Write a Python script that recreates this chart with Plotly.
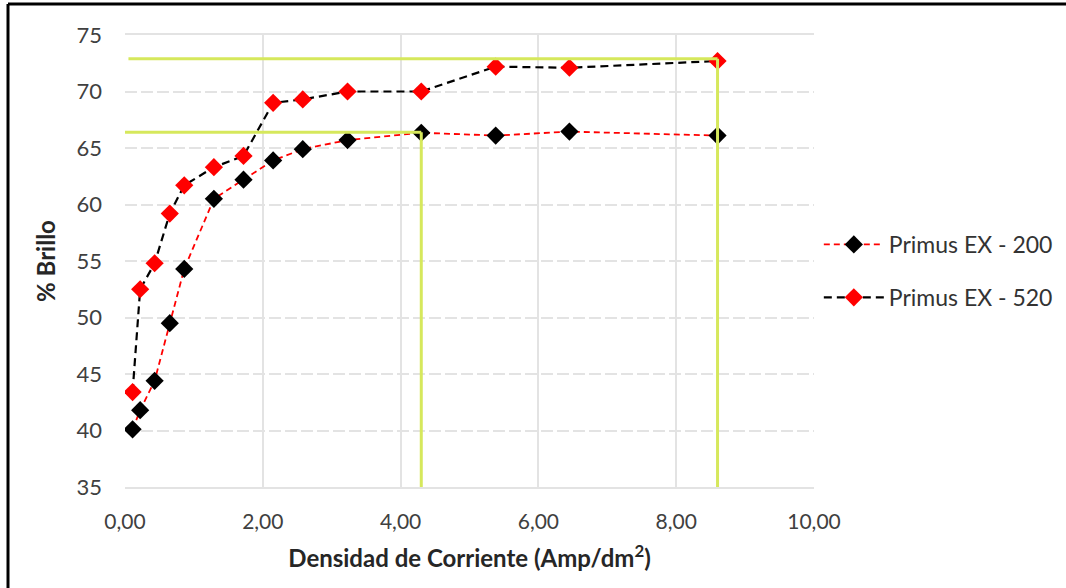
import plotly.graph_objects as go

# Data
x_vals = [0.11, 0.22, 0.43, 0.65, 0.86, 1.29, 1.72, 2.15, 2.58, 3.23, 4.30, 5.38, 6.45, 8.60]
brillo_200 = [40.1, 41.8, 44.4, 49.5, 54.3, 60.5, 62.2, 63.9, 64.9, 65.7, 66.35, 66.1, 66.45, 66.1]
brillo_520 = [43.4, 52.5, 54.8, 59.2, 61.7, 63.3, 64.3, 69.0, 69.3, 70.0, 70.0, 72.2, 72.1, 72.7]

series_names = ["Primus EX - 200", "Primus EX - 520"]

# Reference (guide) lines: x position and brightness level
guide_x = [4.30, 8.60]
guide_y = [66.4, 72.9]
guide_x_start = [0.0, 0.05]

x_ticks = [0, 2, 4, 6, 8, 10]
y_ticks = [35, 40, 45, 50, 55, 60, 65, 70, 75]

FONT = "Lato"
GREEN = "#d6e85c"

fig = go.Figure()

fig.add_trace(go.Scatter(
    x=x_vals, y=brillo_200, name=series_names[0], mode="lines+markers",
    legendgroup="a",
    line=dict(color="#ff0000", width=1.8, dash="6px,4px"),
    marker=dict(symbol="diamond", size=14, color="#000000"),
))
fig.add_trace(go.Scatter(
    x=x_vals, y=brillo_520, name=series_names[1], mode="lines+markers",
    legendgroup="b",
    line=dict(color="#000000", width=2.2, dash="8px,5px"),
    marker=dict(symbol="diamond", size=14, color="#ff0000"),
))

shapes = []
for gx, gy, gx0 in zip(guide_x, guide_y, guide_x_start):
    shapes.append(dict(type="line", xref="x", yref="y", x0=gx0, x1=gx, y0=gy, y1=gy,
                       line=dict(color=GREEN, width=3), layer="above"))
    shapes.append(dict(type="line", xref="x", yref="y", x0=gx, x1=gx, y0=gy, y1=34.65,
                       line=dict(color=GREEN, width=3), layer="above"))

# image frame (left and top edges)
shapes.append(dict(type="line", xref="paper", yref="paper", x0=-0.1698, x1=-0.1698,
                   y0=1.0686, y1=-0.3, line=dict(color="#000000", width=3)))
shapes.append(dict(type="line", xref="paper", yref="paper", x0=-0.1698, x1=1.4,
                   y0=1.0686, y1=1.0686, line=dict(color="#000000", width=3)))

fig.update_layout(
    width=1066, height=588, autosize=False,
    margin=dict(l=125, r=252, t=35, b=101, autoexpand=False),
    paper_bgcolor="white", plot_bgcolor="white",
    separators=",.",
    font=dict(family=FONT, color="#404040", size=20),
    shapes=shapes,
    showlegend=True,
    legend=dict(x=1.007, y=0.478, xanchor="left", yanchor="middle",
                font=dict(family=FONT, size=23, color="#333333"),
                itemwidth=60, tracegroupgap=20, traceorder="grouped",
                bgcolor="rgba(0,0,0,0)"),
)

fig.update_xaxes(
    range=[0, 10], tickvals=x_ticks, tickformat=".2f",
    showgrid=True, gridcolor="#e3e3e3", gridwidth=2,
    showline=True, linecolor="#e3e3e3", linewidth=2, mirror=True,
    zeroline=False, ticks="", ticklabelstandoff=15,
    tickfont=dict(family=FONT, size=21, color="#404040"),
    title=dict(text="Densidad de Corriente (Amp/dm<sup>2</sup>)",
               font=dict(family=FONT, size=24, color="#262626", weight="bold"),
               standoff=18),
)
fig.update_yaxes(
    range=[35, 75], tickvals=y_ticks,
    showgrid=True, gridcolor="#e3e3e3", gridwidth=2, griddash="12px,4px",
    showline=False, zeroline=False, ticks="", ticklabelstandoff=22,
    tickfont=dict(family=FONT, size=22, color="#404040"),
    title=dict(text="% Brillo",
               font=dict(family=FONT, size=24, color="#262626", weight="bold"),
               standoff=14),
)

fig.write_html(
    "out.html",
    config={"displayModeBar": False, "responsive": False},
    post_script=(
        "document.body.style.margin='0px';"
        "document.body.style.overflow='hidden';"
        "document.documentElement.style.overflow='hidden';"
    ),
)
